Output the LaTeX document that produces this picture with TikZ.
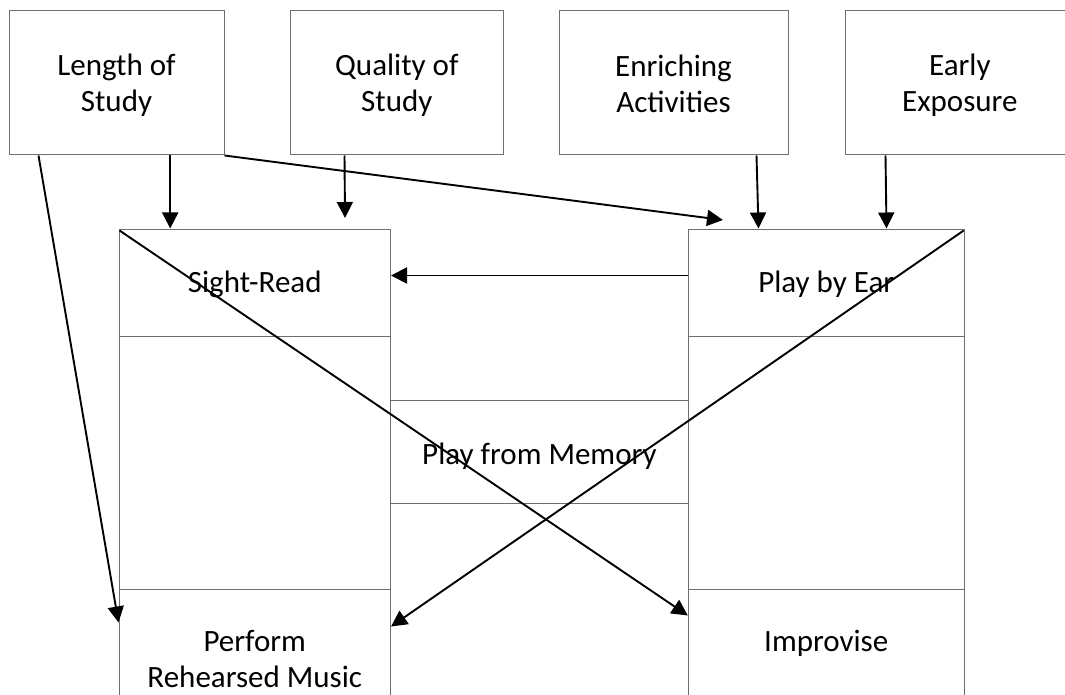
\documentclass[tikz,border=0pt]{standalone}
\usepackage{fontspec}
\setmainfont{Carlito}
\usetikzlibrary{arrows.meta}
\definecolor{boxgray}{HTML}{6E6E6E}
\newcommand{\twolines}[2]{\begin{tabular}[t]{@{}c@{}}#1\\#2\end{tabular}}
\begin{document}
\begin{tikzpicture}[x=1pt,y=-1pt,
  box/.style={draw=boxgray, line width=1pt, inner sep=0pt},
  lab/.style={inner sep=0pt, anchor=base, font=\fontsize{31}{36}\selectfont},
  arr/.style={draw=black, line width=1.9pt, -{Triangle[length=16pt,width=16pt]}}]
\useasboundingbox (0,0) rectangle (1065,695);
% top boxes
\node[box, minimum width=215pt, minimum height=144pt] (len) at (116.5,83) {};
\node[box, minimum width=212.3pt, minimum height=144pt] (qual) at (396.85,83) {};
\node[box, minimum width=229pt, minimum height=144pt] (enr) at (673.5,83) {};
\node[box, minimum width=228.3pt, minimum height=144pt] (early) at (959.85,83) {};
% left column
\node[box, minimum width=271.5pt, minimum height=107.7pt] (sr) at (254.75,282.85) {};
\node[box, minimum width=271.5pt, minimum height=252.3pt] (lm) at (254.75,462.85) {};
\node[box, minimum width=271.5pt, minimum height=142pt] (perf) at (254.75,660) {};
% middle column
\node[box, minimum width=297.8pt, minimum height=103pt] (pfm) at (539.4,451.5) {};
\node[box, minimum width=297.8pt, minimum height=237pt] (mb) at (539.4,621.5) {};
% right column
\node[box, minimum width=275.9pt, minimum height=107.7pt] (pbe) at (826.25,282.85) {};
\node[box, minimum width=275.9pt, minimum height=252.3pt] (rm) at (826.25,462.85) {};
\node[box, minimum width=275.9pt, minimum height=114pt] (imp) at (826.25,646) {};
% texts
\node[lab] (tlen) at (116.5,76) {\twolines{Length of}{Study}};
\node[lab] (tqual) at (396.85,76) {\twolines{Quality of}{Study}};
\node[lab] (tenr) at (673.5,76.5) {\twolines{Enriching}{Activities}};
\node[lab] (tearly) at (959.85,76) {\twolines{Early}{Exposure}};
\node[lab] (tsr) at (254.75,292) {Sight-Read};
\node[lab] (tpbe) at (826.25,292) {Play by Ear};
\node[lab] (tpfm) at (539.4,464) {Play from Memory};
\node[lab] (tperf) at (254.75,651.7) {\twolines{Perform}{Rehearsed Music}};
\node[lab] (timp) at (826.25,651.7) {Improvise};
% free ends
\coordinate (qtip) at (345,218);
\coordinate (ltip) at (723,220);
% connectors
\draw[arr] ([xshift=161.7pt]len.south west) -- ([xshift=51.7pt]sr.north west);
\draw[arr] ([xshift=54.3pt]qual.south west) -- (qtip);
\draw[arr] (len.south east) -- (ltip);
\draw[arr] ([xshift=30pt]len.south west) -- ([yshift=-34pt]perf.north west);
\draw[arr] ([xshift=198pt]enr.south west) -- ([xshift=70.7pt]pbe.north west);
\draw[arr] ([xshift=40.3pt]early.south west) -- ([xshift=198.7pt]pbe.north west);
\draw[arr] ([yshift=-47pt]pbe.north west) -- ([yshift=-47pt]sr.north east);
\draw[arr] ([xshift=1pt,yshift=-2pt]sr.north west) -- ([yshift=-27pt]imp.north west);
\draw[arr] ([xshift=-1pt,yshift=-2pt]pbe.north east) -- ([yshift=-38pt]perf.north east);
\end{tikzpicture}
\end{document}
